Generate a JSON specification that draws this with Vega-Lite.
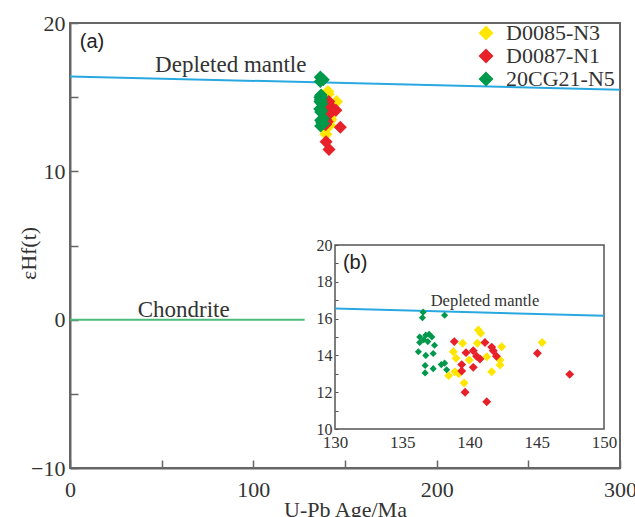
{
  "$schema": "https://vega.github.io/schema/vega-lite/v6.json",
  "width": 550,
  "height": 445,
  "autosize": {"type": "none"},
  "padding": {"left": 70, "top": 23, "right": 15, "bottom": 49},
  "background": "white",
  "config": {"view": {"stroke": "#666", "strokeWidth": 2}, "font": "Liberation Serif"},
  "datasets": {
    "zircons": [
      {"sample": "D0085-N3", "age": 140.66, "ehf": 15.38},
      {"sample": "D0085-N3", "age": 140.83, "ehf": 15.2},
      {"sample": "D0085-N3", "age": 139.49, "ehf": 14.66},
      {"sample": "D0085-N3", "age": 140.58, "ehf": 14.66},
      {"sample": "D0085-N3", "age": 138.8, "ehf": 14.2},
      {"sample": "D0085-N3", "age": 139.0, "ehf": 13.84},
      {"sample": "D0085-N3", "age": 142.39, "ehf": 14.47},
      {"sample": "D0085-N3", "age": 142.27, "ehf": 13.75},
      {"sample": "D0085-N3", "age": 142.27, "ehf": 13.48},
      {"sample": "D0085-N3", "age": 141.28, "ehf": 13.93},
      {"sample": "D0085-N3", "age": 139.98, "ehf": 13.75},
      {"sample": "D0085-N3", "age": 141.65, "ehf": 13.11},
      {"sample": "D0085-N3", "age": 138.45, "ehf": 12.9},
      {"sample": "D0085-N3", "age": 138.92, "ehf": 13.11},
      {"sample": "D0085-N3", "age": 139.2, "ehf": 13.0},
      {"sample": "D0085-N3", "age": 139.6, "ehf": 12.5},
      {"sample": "D0085-N3", "age": 145.4, "ehf": 14.7},
      {"sample": "D0087-N1", "age": 138.87, "ehf": 14.75},
      {"sample": "D0087-N1", "age": 139.74, "ehf": 14.15},
      {"sample": "D0087-N1", "age": 140.28, "ehf": 14.25},
      {"sample": "D0087-N1", "age": 140.53, "ehf": 13.95},
      {"sample": "D0087-N1", "age": 140.78, "ehf": 13.8},
      {"sample": "D0087-N1", "age": 141.15, "ehf": 14.7},
      {"sample": "D0087-N1", "age": 141.65, "ehf": 14.45},
      {"sample": "D0087-N1", "age": 141.77, "ehf": 14.25},
      {"sample": "D0087-N1", "age": 142.0, "ehf": 13.95},
      {"sample": "D0087-N1", "age": 139.42, "ehf": 13.5},
      {"sample": "D0087-N1", "age": 139.42, "ehf": 13.15},
      {"sample": "D0087-N1", "age": 140.28, "ehf": 13.35},
      {"sample": "D0087-N1", "age": 139.67, "ehf": 12.0},
      {"sample": "D0087-N1", "age": 141.28, "ehf": 11.48},
      {"sample": "D0087-N1", "age": 145.05, "ehf": 14.12},
      {"sample": "D0087-N1", "age": 147.45, "ehf": 12.97},
      {"sample": "20CG21-N5", "age": 136.55, "ehf": 16.35},
      {"sample": "20CG21-N5", "age": 136.5, "ehf": 16.05},
      {"sample": "20CG21-N5", "age": 138.15, "ehf": 16.18},
      {"sample": "20CG21-N5", "age": 136.3, "ehf": 15.0},
      {"sample": "20CG21-N5", "age": 136.75, "ehf": 15.1},
      {"sample": "20CG21-N5", "age": 137.2, "ehf": 15.0},
      {"sample": "20CG21-N5", "age": 137.0, "ehf": 15.15},
      {"sample": "20CG21-N5", "age": 136.3, "ehf": 14.7},
      {"sample": "20CG21-N5", "age": 136.9, "ehf": 14.75},
      {"sample": "20CG21-N5", "age": 137.4, "ehf": 14.55},
      {"sample": "20CG21-N5", "age": 136.6, "ehf": 14.85},
      {"sample": "20CG21-N5", "age": 136.2, "ehf": 14.2},
      {"sample": "20CG21-N5", "age": 136.75, "ehf": 14.0},
      {"sample": "20CG21-N5", "age": 137.3, "ehf": 14.1},
      {"sample": "20CG21-N5", "age": 136.7, "ehf": 13.45},
      {"sample": "20CG21-N5", "age": 137.3, "ehf": 13.28},
      {"sample": "20CG21-N5", "age": 136.7, "ehf": 13.05},
      {"sample": "20CG21-N5", "age": 137.9, "ehf": 13.5},
      {"sample": "20CG21-N5", "age": 138.15, "ehf": 13.58},
      {"sample": "20CG21-N5", "age": 138.3, "ehf": 13.22}
    ],
    "refMain": [
      {"line": "Depleted mantle", "age": 0, "ehf": 16.4},
      {"line": "Depleted mantle", "age": 300, "ehf": 15.5},
      {"line": "Chondrite", "age": 0, "ehf": 0},
      {"line": "Chondrite", "age": 128, "ehf": 0}
    ],
    "refInset": [
      {"line": "Depleted mantle", "age": 130, "ehf": 16.55},
      {"line": "Depleted mantle", "age": 150, "ehf": 16.15}
    ]
  },
  "layer": [
    {
      "layer": [
        {
          "data": {"name": "refMain"},
          "mark": {"type": "line", "strokeWidth": 2},
          "encoding": {
            "x": {
              "field": "age", "type": "quantitative",
              "scale": {"domain": [0, 300], "nice": false, "zero": false},
              "axis": {
                "title": "U-Pb Age/Ma",
                "values": [0, 50, 100, 150, 200, 250, 300],
                "labelExpr": "datum.value % 100 === 0 ? datum.label : ''",
                "tickSize": -8, "tickColor": "#666", "tickWidth": 1.5,
                "domainColor": "#666", "domainWidth": 2, "grid": false,
                "labelFont": "Liberation Serif", "labelFontSize": 22, "labelColor": "#333",
                "labelPadding": 19, "labelFlush": false, "labelDx": -2,
                "titleFont": "Liberation Serif", "titleFontSize": 22, "titleFontWeight": "normal",
                "titleColor": "#333", "titleY": 31, "titleBaseline": "top"
              }
            },
            "y": {
              "field": "ehf", "type": "quantitative",
              "scale": {"domain": [-10, 20], "nice": false, "zero": false},
              "axis": {
                "title": "εHf(t)",
                "values": [-10, -5, 0, 5, 10, 15, 20],
                "labelExpr": "datum.value % 10 === 0 ? datum.label : ''",
                "tickSize": -8, "tickColor": "#666", "tickWidth": 1.5,
                "domainColor": "#666", "domainWidth": 2, "grid": false,
                "labelFont": "Liberation Serif", "labelFontSize": 22, "labelColor": "#333",
                "labelPadding": 13, "labelFlush": false,
                "titleFont": "Liberation Serif", "titleFontSize": 22, "titleFontWeight": "normal",
                "titleColor": "#333", "titleX": -42, "titleY": 230, "titleBaseline": "middle", "titleAlign": "center", "titleAngle": -90
              }
            },
            "detail": {"field": "line"},
            "color": {"condition": {"test": "datum.line === 'Chondrite'", "value": "#4cbb7c"}, "value": "#29a8e0"}
          }
        },
        {
          "data": {"values": [{}]},
          "mark": {"type": "text", "font": "Liberation Serif", "fontSize": 23, "color": "#333", "align": "center", "baseline": "middle"},
          "encoding": {"x": {"datum": 87.7, "type": "quantitative"}, "y": {"datum": 17.2, "type": "quantitative"}, "text": {"value": "Depleted mantle"}}
        },
        {
          "data": {"values": [{}]},
          "mark": {"type": "text", "font": "Liberation Serif", "fontSize": 23, "color": "#333", "align": "center", "baseline": "middle"},
          "encoding": {"x": {"datum": 62, "type": "quantitative"}, "y": {"datum": 0.62, "type": "quantitative"}, "text": {"value": "Chondrite"}}
        },
        {
          "data": {"values": [{}]},
          "mark": {"type": "text", "font": "Liberation Sans", "fontSize": 20, "color": "#222", "align": "center", "baseline": "middle"},
          "encoding": {"x": {"datum": 12, "type": "quantitative"}, "y": {"datum": 18.72, "type": "quantitative"}, "text": {"value": "(a)"}}
        },
        {
          "data": {"name": "zircons"},
          "mark": {"type": "point", "shape": "diamond", "filled": true, "size": 170, "opacity": 1},
          "encoding": {
            "x": {"field": "age", "type": "quantitative"},
            "y": {"field": "ehf", "type": "quantitative"},
            "color": {
              "field": "sample", "type": "nominal",
              "scale": {"domain": ["D0085-N3", "D0087-N1", "20CG21-N5"], "range": ["#ffe600", "#e8202a", "#00984a"]},
              "legend": {
                "orient": "none", "legendX": 405, "legendY": -1, "title": null,
                "symbolType": "diamond", "symbolSize": 225, "symbolOpacity": 1,
                "labelFont": "Liberation Serif", "labelFontSize": 22, "labelColor": "#333",
                "labelOffset": 9, "rowPadding": 1
              }
            }
          }
        }
      ]
    },
    {
      "layer": [
        {
          "data": {"values": [{}]},
          "mark": {"type": "rect", "fill": "white", "stroke": "#555", "strokeWidth": 1.5},
          "encoding": {
            "x": {
              "datum": 130, "type": "quantitative",
              "scale": {"domain": [130, 150], "range": [265, 534], "nice": false, "zero": false},
              "axis": {
                "orient": "bottom", "offset": -39, "zindex": 1,
                "values": [130, 135, 140, 145, 150], "ticks": false, "domain": false, "grid": false, "title": null,
                "labelFont": "Liberation Serif", "labelFontSize": 17, "labelColor": "#333", "labelPadding": 5, "labelDx": 6, "labelFlush": false
              }
            },
            "x2": {"datum": 150},
            "y": {
              "datum": 10, "type": "quantitative",
              "scale": {"domain": [10, 20], "range": [406, 222], "nice": false, "zero": false},
              "axis": {
                "orient": "left", "offset": -265, "zindex": 1,
                "values": [10, 11, 12, 13, 14, 15, 16, 17, 18, 19, 20],
                "labelExpr": "datum.value % 2 === 0 ? datum.label : ''",
                "tickSize": -3, "tickColor": "#555", "domain": false, "grid": false, "title": null,
                "labelFont": "Liberation Serif", "labelFontSize": 16, "labelColor": "#333", "labelPadding": 6, "labelFlush": false
              }
            },
            "y2": {"datum": 20}
          }
        },
        {
          "data": {"name": "refInset"},
          "mark": {"type": "line", "strokeWidth": 2, "color": "#29a8e0"},
          "encoding": {
            "x": {"field": "age", "type": "quantitative"},
            "y": {"field": "ehf", "type": "quantitative"}
          }
        },
        {
          "data": {"values": [{}]},
          "mark": {"type": "text", "font": "Liberation Serif", "fontSize": 16.5, "color": "#333", "align": "center", "baseline": "middle"},
          "encoding": {"x": {"datum": 141.15, "type": "quantitative"}, "y": {"datum": 16.95, "type": "quantitative"}, "text": {"value": "Depleted mantle"}}
        },
        {
          "data": {"values": [{}]},
          "mark": {"type": "text", "font": "Liberation Sans", "fontSize": 20, "color": "#222", "align": "center", "baseline": "middle"},
          "encoding": {"x": {"datum": 131.5, "type": "quantitative"}, "y": {"datum": 19.02, "type": "quantitative"}, "text": {"value": "(b)"}}
        },
        {
          "data": {"name": "zircons"},
          "mark": {"type": "point", "shape": "diamond", "filled": true, "opacity": 1},
          "encoding": {
            "x": {"field": "age", "type": "quantitative"},
            "y": {"field": "ehf", "type": "quantitative"},
            "size": {"condition": {"test": "datum.sample === '20CG21-N5'", "value": 50}, "value": 80},
            "color": {"field": "sample", "type": "nominal"}
          }
        }
      ]
    }
  ],
  "resolve": {"scale": {"x": "independent", "y": "independent"}}
}
